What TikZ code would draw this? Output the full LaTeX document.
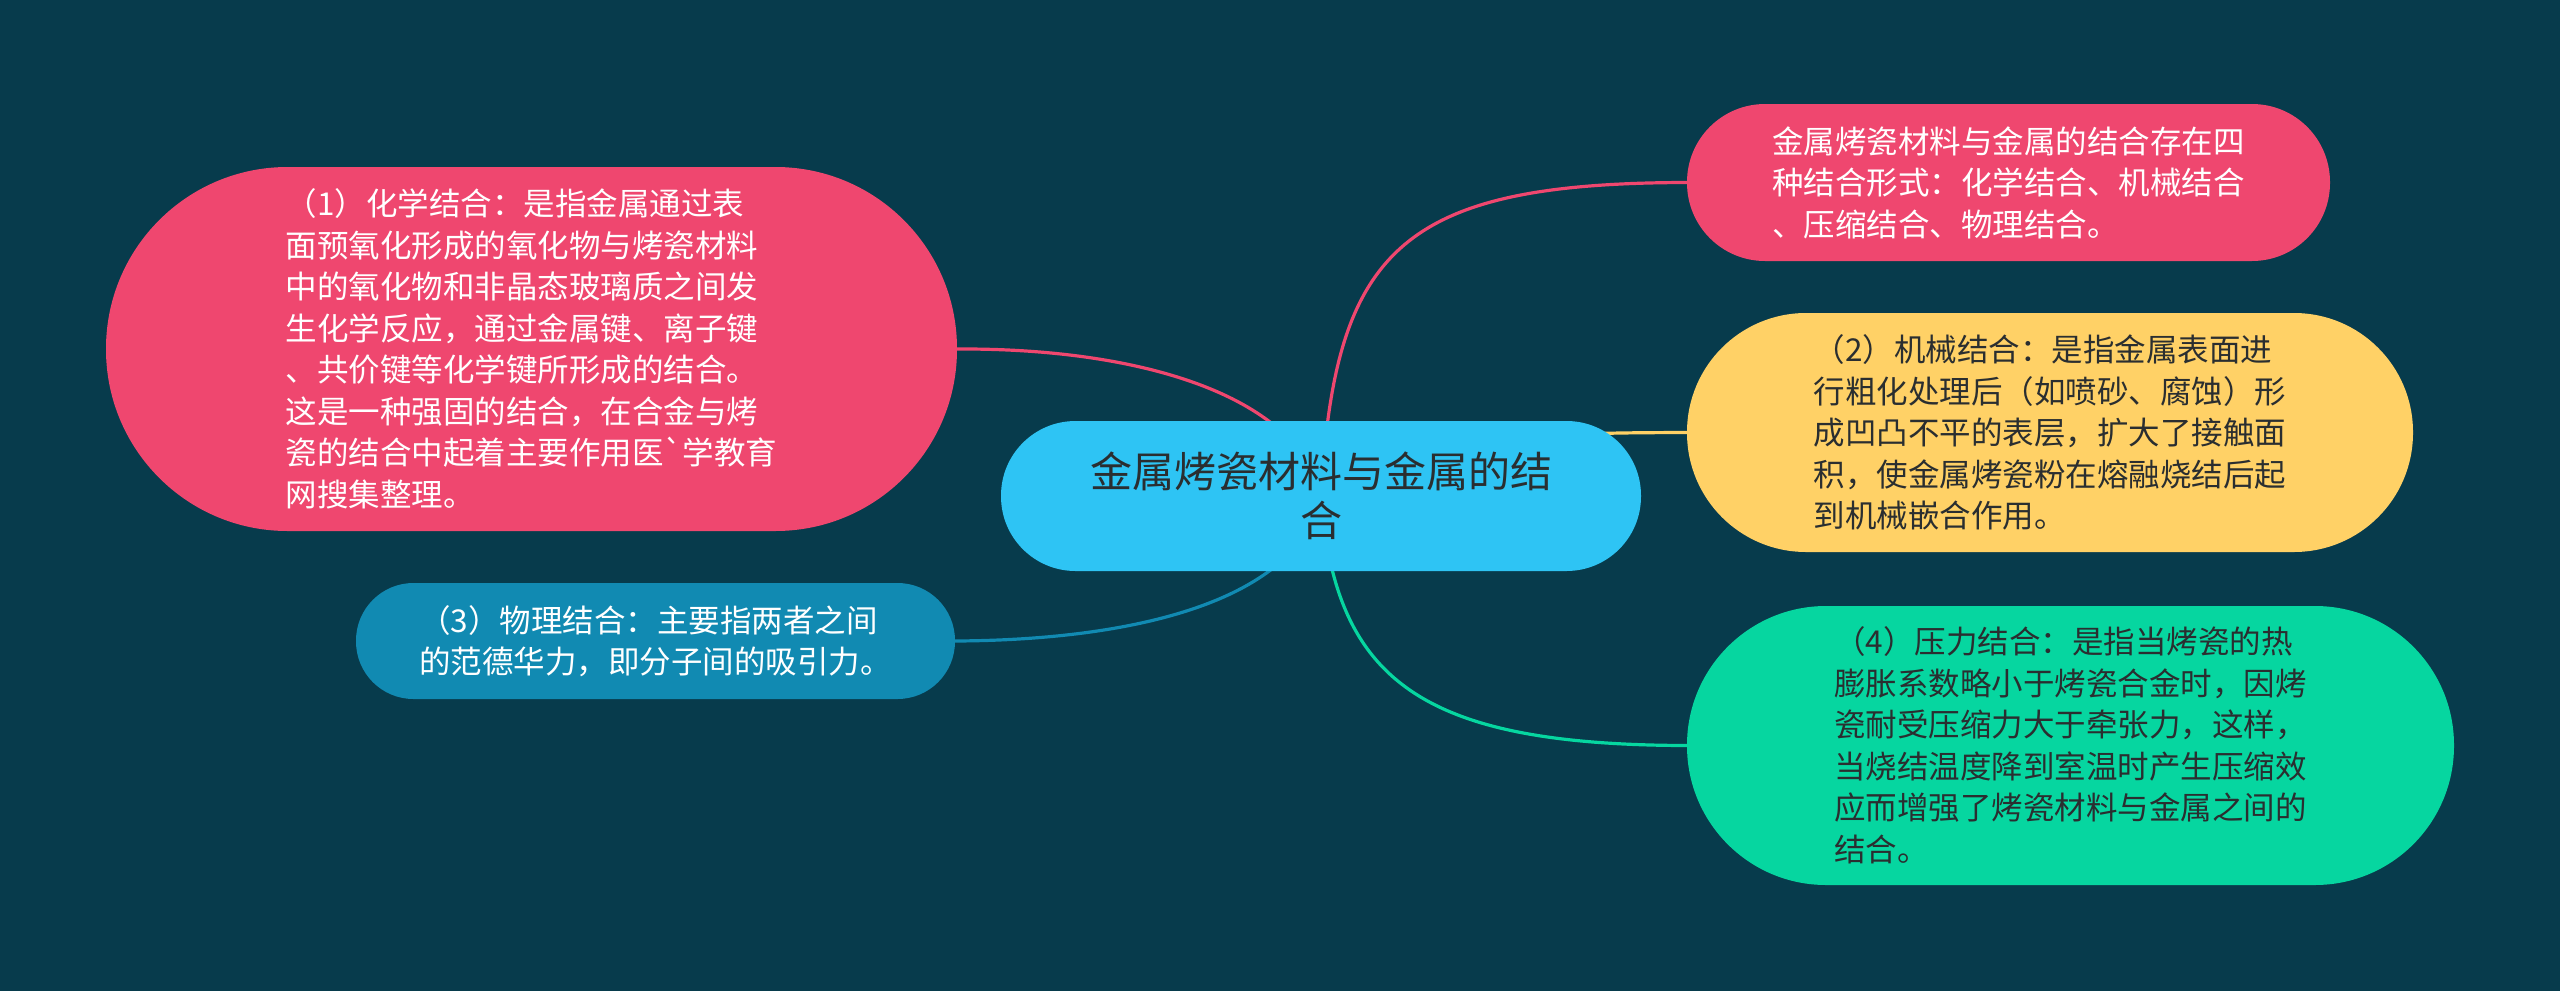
\documentclass[tikz,border=0pt]{standalone}
\usepackage{fontspec}
\newfontfamily\cjk{Noto Sans CJK SC}[Ligatures=TeXOff]
\usetikzlibrary{calc}
\definecolor{bgc}{HTML}{073B4C}
\definecolor{cpink}{HTML}{EF476F}
\definecolor{cyellow}{HTML}{FFD166}
\definecolor{cgreen}{HTML}{06D6A0}
\definecolor{cblue}{HTML}{118AB2}
\definecolor{ccenter}{HTML}{2EC4F4}
\definecolor{darktext}{HTML}{2A2E30}
\pgfdeclarelayer{back}
\pgfsetlayers{back,main}
\tikzset{
  box/.style={rectangle, inner sep=0pt, align=left,
    font=\cjk\fontsize{31.5}{41.5}\selectfont},
  link/.style={line width=3.2pt},
}
\begin{document}
\begin{tikzpicture}[x=1pt,y=-1pt]
\useasboundingbox (0,0) rectangle (2560,991);

\node[box, align=center, fill=ccenter, text=darktext, minimum width=640pt, minimum height=150pt,
  rounded corners=74.5pt, font=\cjk\fontsize{42}{49}\selectfont] (c) at (1321,496)
  {金属烤瓷材料与金属的结\\合};

\node[box, fill=cpink, text=white, minimum width=851pt, minimum height=364pt,
  rounded corners=181.5pt] (n1) at (531.5,349)
  {（1）化学结合：是指金属通过表\\
   面预氧化形成的氧化物与烤瓷材料\\
   中的氧化物和非晶态玻璃质之间发\\
   生化学反应，通过金属键、离子键\\
   、共价键等化学键所形成的结合。\\
   这是一种强固的结合，在合金与烤\\
   瓷的结合中起着主要作用医`学教育\\
   网搜集整理。};

\node[box, fill=cpink, text=white, minimum width=643pt, minimum height=157pt,
  rounded corners=78pt] (n2) at (2008.5,182.5)
  {金属烤瓷材料与金属的结合存在四\\
   种结合形式：化学结合、机械结合\\
   、压缩结合、物理结合。};

\node[box, fill=cyellow, text=darktext, minimum width=726pt, minimum height=239pt,
  rounded corners=119pt] (n3) at (2050,432.5)
  {（2）机械结合：是指金属表面进\\
   行粗化处理后（如喷砂、腐蚀）形\\
   成凹凸不平的表层，扩大了接触面\\
   积，使金属烤瓷粉在熔融烧结后起\\
   到机械嵌合作用。};

\node[box, fill=cgreen, text=darktext, minimum width=767pt, minimum height=279pt,
  rounded corners=139pt] (n4) at (2070.5,745.5)
  {（4）压力结合：是指当烤瓷的热\\
   膨胀系数略小于烤瓷合金时，因烤\\
   瓷耐受压缩力大于牵张力，这样，\\
   当烧结温度降到室温时产生压缩效\\
   应而增强了烤瓷材料与金属之间的\\
   结合。};

\node[box, fill=cblue, text=white, minimum width=599pt, minimum height=116pt,
  rounded corners=57.5pt] (n5) at (655.5,641)
  {（3）物理结合：主要指两者之间\\
   的范德华力，即分子间的吸引力。};

\begin{pgfonlayer}{back}
\fill[bgc] (0,0) rectangle (2560,991);
\draw[link, cpink] (c.center) .. controls (1300,400) and (1150,348) .. (n1.east);
\draw[link, cpink] (c.center) .. controls (1335,250) and (1400,183) .. (n2.west);
\draw[link, cyellow] (c.center) .. controls (1450,433) and (1550,433) .. (n3.west);
\draw[link, cgreen] (c.center) .. controls (1335,680) and (1420,745) .. (n4.west);
\draw[link, cblue] (c.center) .. controls (1300,595) and (1150,640) .. (n5.east);
\end{pgfonlayer}
\end{tikzpicture}
\end{document}
